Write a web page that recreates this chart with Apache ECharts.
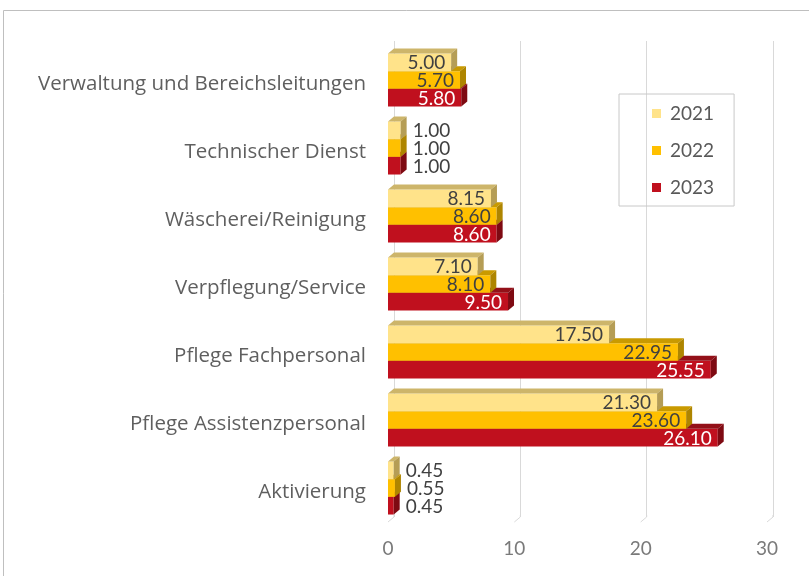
<!DOCTYPE html>
<html>
<head>
<meta charset="utf-8">
<script src="https://cdn.jsdelivr.net/npm/echarts@6/dist/echarts.min.js"></script>
<style>
  html, body { margin: 0; padding: 0; background: #fff; }
  #chart { width: 809px; height: 576px; }
</style>
</head>
<body>
<div id="chart"></div>
<script>
const categories = [
  'Verwaltung und Bereichsleitungen',
  'Technischer Dienst',
  'Wäscherei/Reinigung',
  'Verpflegung/Service',
  'Pflege Fachpersonal',
  'Pflege Assistenzpersonal',
  'Aktivierung'
]
const years = ['2021', '2022', '2023']
const values2021 = [5.00, 1.00, 8.15, 7.10, 17.50, 21.30, 0.45]
const values2022 = [5.70, 1.00, 8.60, 8.10, 22.95, 23.60, 0.55]
const values2023 = [5.80, 1.00, 8.60, 9.50, 25.55, 26.10, 0.45]
const xTicks = [0, 10, 20, 30]

const FONT = 'Lato, "Open Sans", sans-serif'
const CAT_FONT = '"Open Sans", Lato, sans-serif'
// front / top / side colours per year
const palette = [
  { front: '#FFE38A', top: '#CDB56A', side: '#B59D55', label: '#404040' },
  { front: '#FFC000', top: '#C99A00', side: '#AE8500', label: '#404040' },
  { front: '#C0101E', top: '#931018', side: '#7E0A12', label: '#ffffff' }
]
const DX = 6, DY = 5

function bar3d(idx) {
  return function (params, api) {
    const cat = api.value(1)
    const val = api.value(0)
    const p0 = api.coord([0, cat])
    const p1 = api.coord([val, cat])
    const band = api.size([0, 1])[1]
    const h = band * 0.26
    const x0 = p0[0], x1 = p1[0]
    const y = p0[1] + (idx - 1) * h - h / 2
    const c = palette[idx]
    const small = val < 2
    return {
      type: 'group',
      children: [
        { type: 'rect', shape: { x: x0, y: y, width: x1 - x0, height: h }, style: { fill: c.front } },
        { type: 'polygon', shape: { points: [[x0, y], [x0 + DX, y - DY], [x1 + DX, y - DY], [x1, y]] }, style: { fill: c.top } },
        { type: 'polygon', shape: { points: [[x1, y], [x1 + DX, y - DY], [x1 + DX, y + h - DY], [x1, y + h]] }, style: { fill: c.side } },
        {
          type: 'text',
          style: {
            text: val.toFixed(2),
            x: small ? x1 + DX + 6 : x1 - 6,
            y: y + h / 2 + 1,
            align: small ? 'left' : 'right',
            verticalAlign: 'middle',
            fill: small ? '#404040' : c.label,
            font: '19px ' + FONT
          }
        }
      ]
    }
  }
}

function toData(arr) {
  return arr.map((v, i) => [v, i])
}

const chart = echarts.init(document.getElementById('chart'))
chart.setOption({
  animation: false,
  textStyle: { fontFamily: FONT },
  graphic: [{
    type: 'rect',
    shape: { x: 3.5, y: 10.5, width: 1000, height: 1000 },
    style: { fill: 'none', stroke: '#bfbfbf', lineWidth: 1 },
    silent: true
  }],
  legend: {
    orient: 'vertical',
    left: 619,
    top: 94,
    data: years,
    icon: 'rect',
    itemWidth: 9,
    itemHeight: 9,
    itemGap: 18,
    padding: [10, 20, 9, 33],
    borderColor: '#c8c8c8',
    borderWidth: 1,
    textStyle: { fontSize: 19, color: '#595959', fontFamily: FONT, padding: [0, 0, 0, 4] }
  },
  grid: [
    { left: 388, right: 42, top: 46, bottom: 54 },
    { left: 394, right: 36, top: 41, bottom: 59 }
  ],
  xAxis: [
    {
      type: 'value', gridIndex: 0, min: 0, max: 30, interval: 10,
      axisLine: { show: false }, axisTick: { show: false }, splitLine: { show: false },
      axisLabel: { color: '#7a7a7a', fontSize: 19, margin: 17, fontFamily: FONT }
    },
    {
      type: 'value', gridIndex: 1, min: 0, max: 30, interval: 10,
      axisLine: { show: false }, axisTick: { show: false }, axisLabel: { show: false },
      splitLine: { show: true, lineStyle: { color: '#d9d9d9', width: 1 } }
    }
  ],
  yAxis: [
    {
      type: 'category', gridIndex: 0, data: categories, inverse: true,
      axisLine: { show: false }, axisTick: { show: false },
      axisLabel: {
        color: '#5f5f5f', fontSize: 20.5, margin: 22, fontFamily: CAT_FONT,
        verticalAlign: 'top', lineHeight: 8
      }
    },
    { type: 'value', gridIndex: 1, show: false }
  ],
  series: [
    {
      name: '2023', type: 'custom', xAxisIndex: 0, yAxisIndex: 0, z: 3,
      itemStyle: { color: palette[2].front },
      renderItem: bar3d(2), data: toData(values2023)
    },
    {
      name: '2022', type: 'custom', xAxisIndex: 0, yAxisIndex: 0, z: 4,
      itemStyle: { color: palette[1].front },
      renderItem: bar3d(1), data: toData(values2022)
    },
    {
      name: '2021', type: 'custom', xAxisIndex: 0, yAxisIndex: 0, z: 5,
      itemStyle: { color: palette[0].front },
      renderItem: bar3d(0), data: toData(values2021)
    },
    {
      // little floor feet of the back-wall gridlines
      name: 'feet', type: 'custom', xAxisIndex: 0, yAxisIndex: 0, z: 1, silent: true,
      renderItem: function (params, api) {
        const cs = params.coordSys
        const x = api.coord([api.value(0), 0])[0]
        const yb = cs.y + cs.height
        return {
          type: 'polyline',
          shape: { points: [[x + DX, yb - DY - 2], [x + DX, yb - DY], [x, yb]] },
          style: { stroke: '#d9d9d9', lineWidth: 1, fill: 'none' }
        }
      },
      data: xTicks.map(v => [v, 0])
    }
  ]
})
</script>
</body>
</html>
